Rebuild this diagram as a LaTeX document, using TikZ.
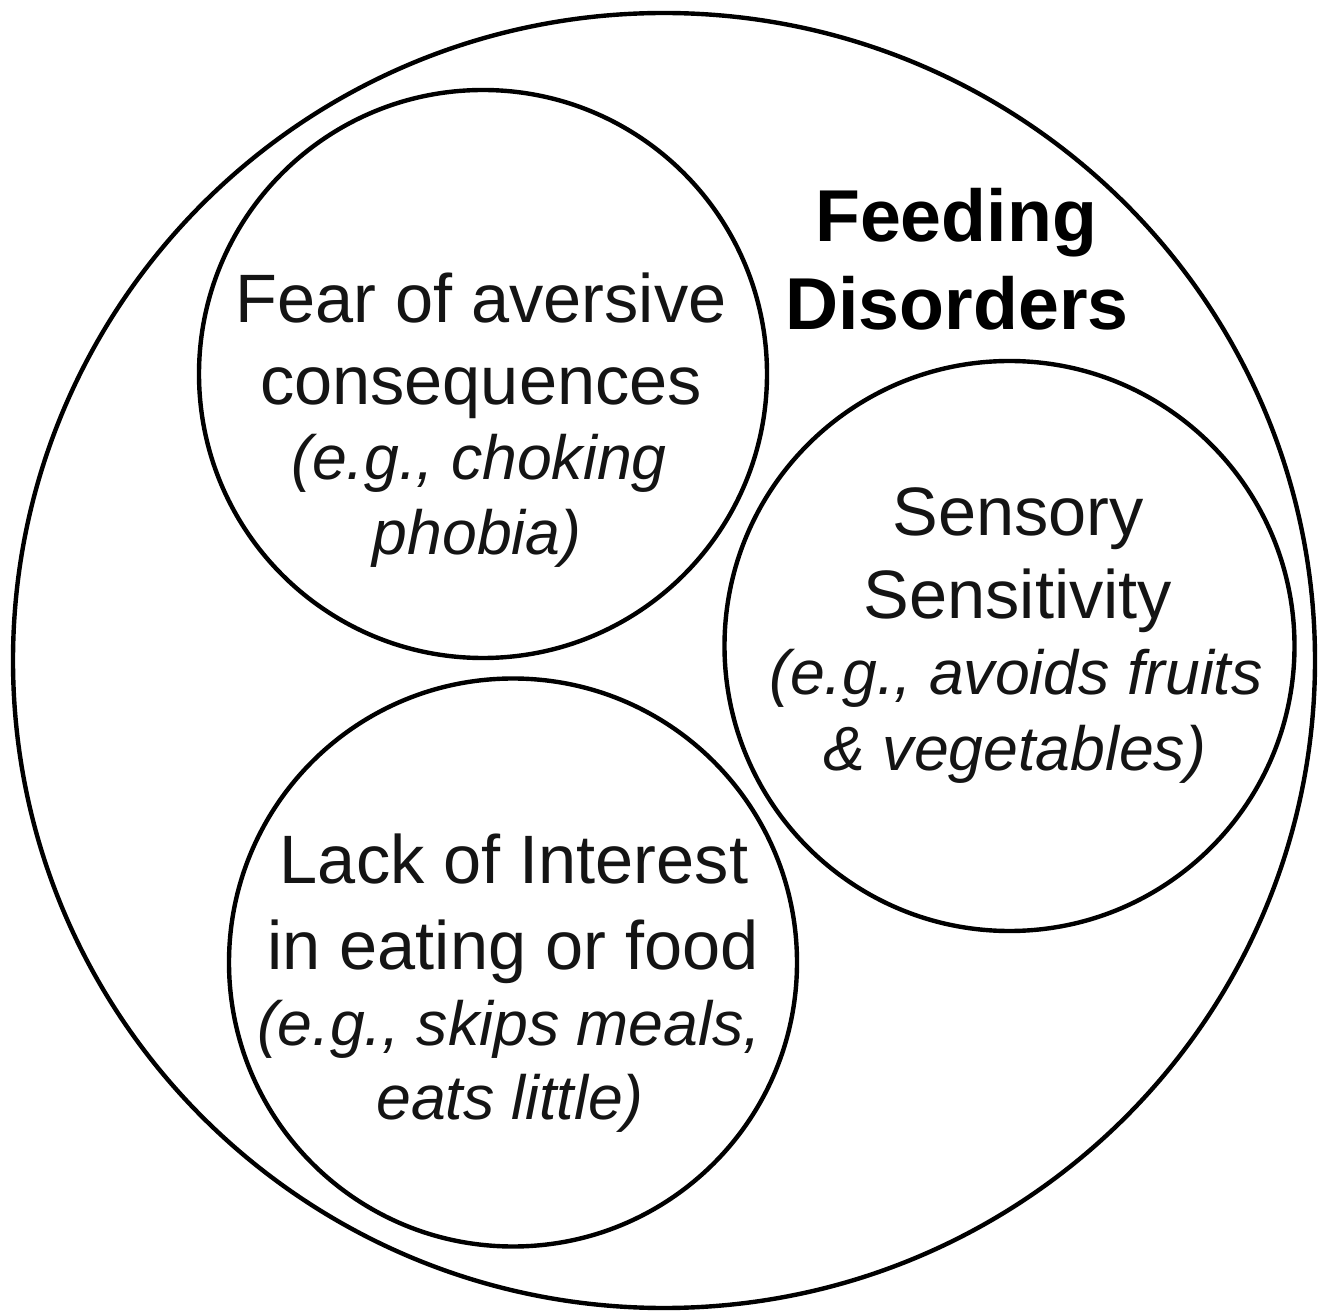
\documentclass[tikz,border=0pt]{standalone}
\usepackage{fontspec}
\setmainfont{Liberation Sans}
\usetikzlibrary{shapes.geometric}
\tikzset{
  outerring/.style={ellipse, draw, line width=2.2pt, inner sep=0pt},
  bubble/.style={circle, draw, line width=2.2pt, inner sep=0pt, minimum size=284pt},
  reg/.style={anchor=base, inner sep=0pt, text=black!92, font=\fontsize{34.25}{40}\selectfont},
  ital/.style={anchor=base, inner sep=0pt, text=black!92, font=\fontsize{31.25}{38}\selectfont\itshape},
  bld/.style={anchor=base, inner sep=0pt, text=black, font=\fontsize{36.75}{44}\selectfont\bfseries},
}
\begin{document}
\begin{tikzpicture}[x=0.5pt, y=-0.5pt]
\useasboundingbox[fill=white] (0,0) rectangle (1329,1315);

% outer circle
\node[outerring, minimum width=651pt, minimum height=647.5pt] (outer) at (664,660.5) {};

% inner circles
\node[bubble] (fear) at (483,374) {};
\node[bubble, minimum size=285pt] (sensory) at (1009.5,646) {};
\node[bubble] (lack) at (513,962.5) {};

% title
\node[bld] (t1) at (956,242) {Feeding};
\node[bld] (t2) at (957,330) {Disorders};

% fear
\node[reg] (f1) at (481,323) {Fear of aversive};
\node[reg] (f2) at (481,405) {consequences};
\node[ital] (f3) at (479,480) {(e.g., choking};
\node[ital] (f4) at (477,555) {phobia)};

% sensory
\node[reg] (s1) at (1018,536) {Sensory};
\node[reg] (s2) at (1018,619) {Sensitivity};
\node[ital] (s3) at (1016,695) {(e.g., avoids fruits};
\node[ital] (s4) at (1015,771) {\& vegetables)};

% lack
\node[reg] (l1) at (514,884) {Lack of Interest};
\node[reg] (l2) at (513,969) {in eating or food};
\node[ital] (l3) at (509,1045) {(e.g., skips meals,};
\node[ital] (l4) at (510,1119) {eats little)};
\end{tikzpicture}
\end{document}
